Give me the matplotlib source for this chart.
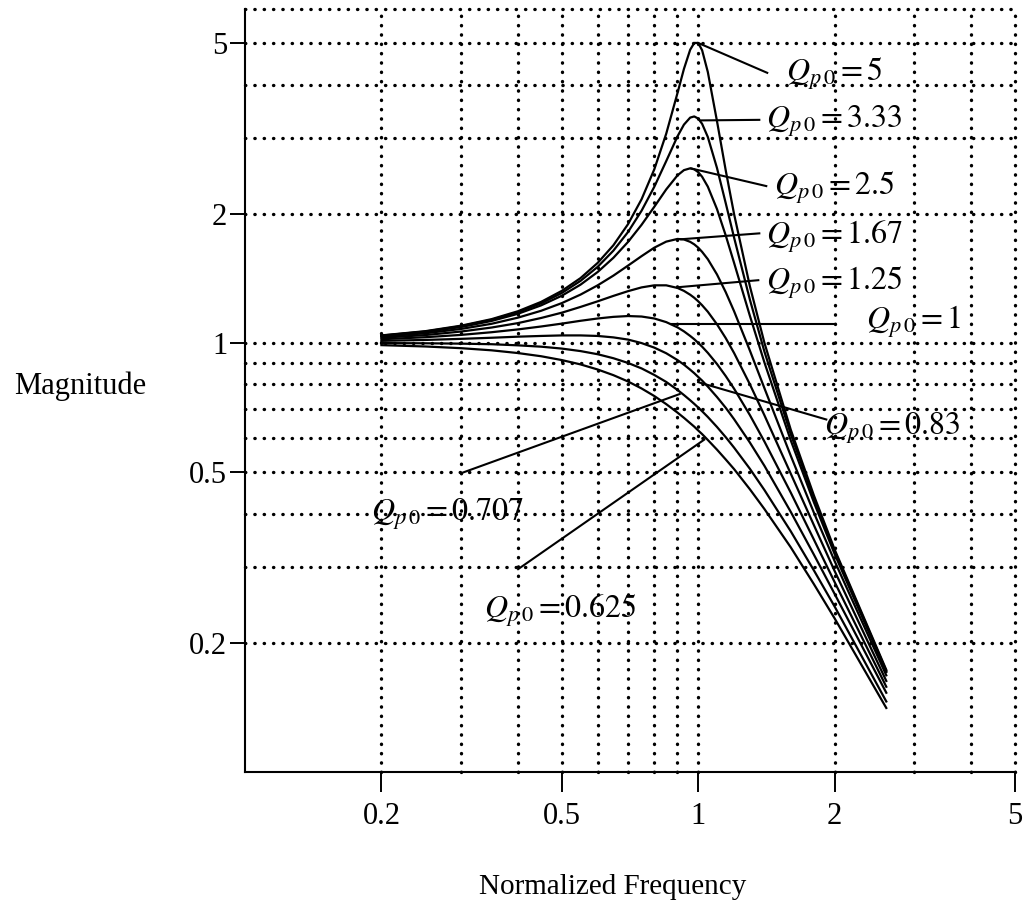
import matplotlib
matplotlib.use('Agg')
import matplotlib.pyplot as plt
from matplotlib.ticker import NullLocator

# Fuentes tipo Times
plt.rcParams['font.family'] = ['Liberation Serif', 'DejaVu Serif']
plt.rcParams['mathtext.fontset'] = 'stix'

# Frecuencia normalizada (eje x)
freq = [0.2, 0.25, 0.3, 0.35, 0.4, 0.45, 0.5, 0.55, 0.6, 0.65, 0.7, 0.75, 0.8, 0.85, 0.9, 0.93, 0.96, 0.98,
        1.0, 1.02, 1.05, 1.1, 1.15, 1.2, 1.3, 1.4, 1.6, 1.8, 2.0, 2.6]

mag_q5 = [1.041, 1.065, 1.097, 1.136, 1.185, 1.246, 1.322, 1.416, 1.536, 1.689, 1.891, 2.162, 2.538, 3.073,
          3.821, 4.350, 4.822, 5.001, 5.000, 4.809, 4.279, 3.288, 2.524, 1.995, 1.356, 1.000, 0.628, 0.441,
          0.330, 0.173]
mag_q333 = [1.040, 1.063, 1.094, 1.132, 1.179, 1.236, 1.307, 1.395, 1.504, 1.641, 1.813, 2.033, 2.311, 2.653,
            3.029, 3.226, 3.350, 3.371, 3.333, 3.240, 3.019, 2.557, 2.117, 1.759, 1.262, 0.954, 0.613, 0.434,
            0.327, 0.172]
mag_q25 = [1.038, 1.061, 1.089, 1.125, 1.169, 1.223, 1.288, 1.367, 1.463, 1.579, 1.719, 1.885, 2.076, 2.279,
           2.457, 2.527, 2.552, 2.538, 2.500, 2.439, 2.313, 2.051, 1.780, 1.536, 1.157, 0.900, 0.593, 0.425,
           0.322, 0.171]
mag_q167 = [1.034, 1.053, 1.078, 1.108, 1.145, 1.188, 1.238, 1.296, 1.362, 1.435, 1.514, 1.593, 1.667, 1.722,
            1.747, 1.742, 1.720, 1.697, 1.667, 1.630, 1.567, 1.444, 1.313, 1.185, 0.960, 0.784, 0.546, 0.402,
            0.310, 0.168]
mag_q125 = [1.028, 1.043, 1.063, 1.086, 1.112, 1.143, 1.176, 1.213, 1.250, 1.287, 1.320, 1.347, 1.362, 1.362,
            1.343, 1.322, 1.295, 1.274, 1.250, 1.224, 1.182, 1.105, 1.026, 0.947, 0.801, 0.678, 0.496, 0.376,
            0.294, 0.163]
mag_q1 = [1.020, 1.031, 1.044, 1.059, 1.075, 1.092, 1.109, 1.126, 1.140, 1.150, 1.155, 1.152, 1.140, 1.118,
          1.087, 1.064, 1.038, 1.020, 1.000, 0.980, 0.948, 0.893, 0.837, 0.782, 0.679, 0.589, 0.448, 0.348,
          0.277, 0.158]
mag_q083 = [1.011, 1.016, 1.022, 1.028, 1.034, 1.038, 1.041, 1.041, 1.038, 1.030, 1.018, 0.999, 0.975, 0.946,
            0.912, 0.890, 0.866, 0.850, 0.833, 0.817, 0.791, 0.748, 0.706, 0.664, 0.586, 0.517, 0.404, 0.321,
            0.260, 0.153]
mag_q0707 = [0.999, 0.998, 0.996, 0.993, 0.987, 0.980, 0.970, 0.957, 0.941, 0.921, 0.898, 0.872, 0.842, 0.811,
             0.777, 0.756, 0.735, 0.721, 0.707, 0.693, 0.672, 0.637, 0.603, 0.570, 0.509, 0.454, 0.364, 0.295,
             0.243, 0.146]
mag_q0625 = [0.988, 0.981, 0.972, 0.961, 0.947, 0.931, 0.912, 0.891, 0.867, 0.841, 0.813, 0.783, 0.752, 0.720,
             0.688, 0.669, 0.650, 0.638, 0.625, 0.613, 0.594, 0.564, 0.535, 0.508, 0.456, 0.410, 0.334, 0.274,
             0.228, 0.141]

curves = [mag_q5, mag_q333, mag_q25, mag_q167, mag_q125, mag_q1, mag_q083, mag_q0707, mag_q0625]
q_values = ['5', '3.33', '2.5', '1.67', '1.25', '1', '0.83', '0.707', '0.625']

# Lineas de referencia de las etiquetas (desde la curva hasta el texto)
lead_from = [(1.0, 5.0), (1.01, 3.3), (0.965, 2.55), (0.917, 1.744), (0.908, 1.349),
             (0.87, 1.107), (1.0, 0.81), (0.91, 0.76), (1.031, 0.595)]
lead_to = [(1.42, 4.26), (1.364, 3.31), (1.413, 2.32), (1.364, 1.80), (1.357, 1.40),
           (1.996, 1.107), (1.917, 0.663), (0.303, 0.499), (0.4005, 0.297)]
text_at = [(1.56, 4.08), (1.41, 3.17), (1.47, 2.21), (1.41, 1.698), (1.41, 1.328),
           (2.34, 1.078), (1.89, 0.611), (0.19, 0.384), (0.337, 0.2286)]

# Rejilla y ticks
grid_x = [0.2, 0.3, 0.4, 0.5, 0.6, 0.7, 0.8, 0.9, 1, 2, 3, 4, 5]
grid_y = [0.2, 0.3, 0.4, 0.5, 0.6, 0.7, 0.8, 0.9, 1, 2, 3, 4, 5, 6]
ticks = [0.2, 0.5, 1, 2, 5]
tick_labels = ['0.2', '0.5', '1', '2', '5']

fig = plt.figure(figsize=(10.23, 9.09), dpi=100)
ax = fig.add_axes([245 / 1023, 1 - 772 / 909, 770 / 1023, 763 / 909])
ax.set_xscale('log')
ax.set_yscale('log')
ax.set_xlim(0.1, 5)
ax.set_ylim(0.1, 6)

dot = dict(color='black', lw=2.4, dashes=(0.1, 2.7), dash_capstyle='round', zorder=1, clip_on=False)
for gx in grid_x:
    ax.axvline(gx, **dot)
for gy in grid_y:
    ax.axhline(gy, **dot)

# Curvas de magnitud
for mag in curves:
    ax.plot(freq, mag, color='black', lw=1.6, zorder=3)

# Etiquetas con linea de referencia
for q, p0, p1, pt in zip(q_values, lead_from, lead_to, text_at):
    ax.plot([p0[0], p1[0]], [p0[1], p1[1]], color='black', lw=1.5, zorder=3)
    ax.text(pt[0], pt[1], r'$Q_{p\,0} = %s$' % q, ha='left', va='baseline', fontsize=23, zorder=4)

ax.spines['top'].set_visible(False)
ax.spines['right'].set_visible(False)
ax.spines['left'].set_linewidth(1.5)
ax.spines['bottom'].set_linewidth(1.5)

ax.set_xticks(ticks)
ax.set_xticklabels(tick_labels)
ax.set_yticks(ticks)
ax.set_yticklabels(tick_labels)
ax.xaxis.set_minor_locator(NullLocator())
ax.yaxis.set_minor_locator(NullLocator())
ax.tick_params(axis='x', direction='out', length=14.4, width=1.4, pad=7, labelsize=22)
ax.tick_params(axis='y', direction='out', length=10.8, width=1.4, pad=2, labelsize=22)

fig.text(80 / 1023, 1 - 386 / 909, 'Magnitude', ha='center', va='center', fontsize=22)
fig.text(613 / 1023, 1 - 887 / 909, 'Normalized Frequency', ha='center', va='center', fontsize=21)

fig.savefig('out.png', dpi=100)
